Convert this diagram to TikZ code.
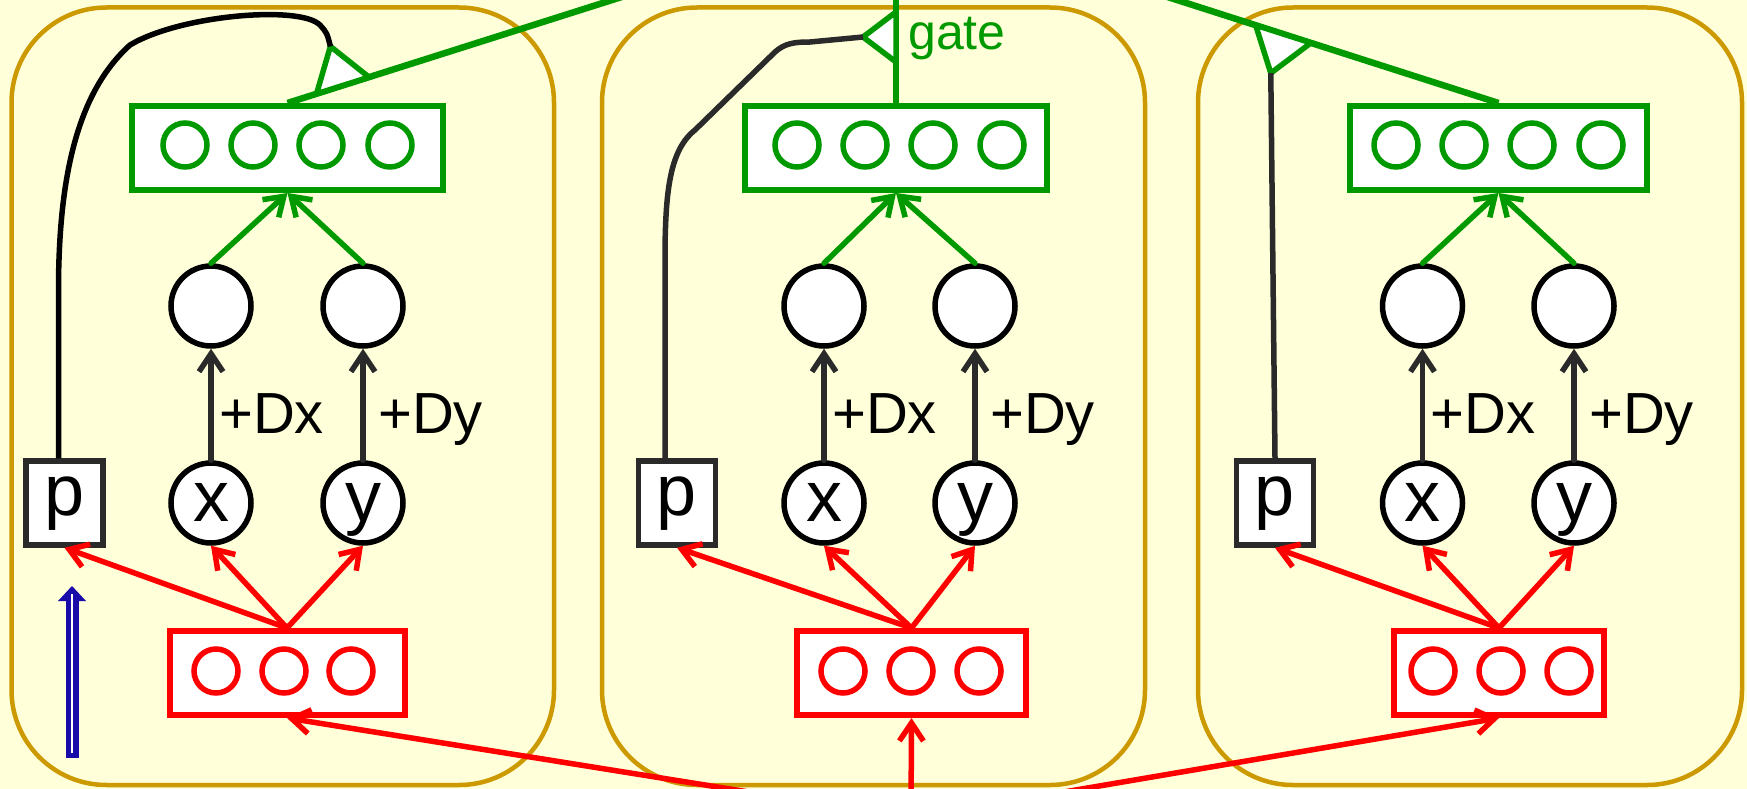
\documentclass[tikz,border=0pt]{standalone}
\usepackage{fontspec}
\setmainfont{Liberation Sans}
\usetikzlibrary{arrows.meta,calc}
\definecolor{bg}{HTML}{FFFFD9}
\definecolor{gold}{HTML}{CC9900}
\definecolor{grn}{HTML}{009900}
\definecolor{rd}{HTML}{FF0000}
\definecolor{blu}{RGB}{25,10,170}
\definecolor{dk}{HTML}{2A2A2A}
\begin{document}
\begin{tikzpicture}[x=1pt,y=-1pt,
  panel/.style={draw=gold, line width=4.5pt, rounded corners=95pt},
  gbox/.style={rectangle, draw=grn, fill=white, line width=6pt, minimum height=84pt, inner sep=0pt},
  rbox/.style={rectangle, draw=rd, fill=white, line width=6pt, minimum height=84pt, inner sep=0pt},
  gdot/.style={circle, draw=grn, line width=5.5pt, minimum size=44pt, inner sep=0pt},
  rdot/.style={circle, draw=rd, line width=5.5pt, minimum size=44pt, inner sep=0pt},
  unitc/.style={circle, draw=black, fill=white, line width=5.5pt, minimum size=80pt, inner sep=0pt,
    font=\fontsize{72}{72}\selectfont, text height=37pt, text depth=0pt},
  pbox/.style={rectangle, draw=dk, fill=white, line width=5.5pt, minimum width=77pt, minimum height=84pt,
    inner sep=0pt, font=\fontsize{72}{72}\selectfont, text height=37pt, text depth=12pt},
  lab/.style={font=\fontsize{58}{58}\selectfont, inner sep=0pt, anchor=base west},
  tip/.style={-{Straight Barb[length=18pt,width=24pt]}, line cap=round},
  rarrow/.style={tip, draw=rd, line width=5.5pt},
  garrow/.style={tip, draw=grn, line width=5.5pt},
  karrow/.style={tip, draw=dk, line width=5.5pt},
  gline/.style={draw=grn, line width=6.5pt},
  gate/.style={draw=grn, fill=white, line width=5.5pt, line join=miter},
  wire/.style={draw=black, line width=5.5pt},
]
\useasboundingbox (0,0) rectangle (1747,789);
\clip (0,0) rectangle (1747,789);
\fill[bg] (0,0) rectangle (1747,789);

% panels
\draw[panel] (11.5,7.5) rectangle (554,785);
\draw[panel] (602,7.5) rectangle (1145,785);
\draw[panel] (1198,7.5) rectangle (1742,785);

\coordinate (top) at (896,-90);
\coordinate (src) at (911,818);

% ---------- panel 1 ----------
\node[gbox, minimum width=311pt] (g1) at (287.5,148) {};
\foreach \i/\x in {a/185,b/253,c/321,d/390} \node[gdot] (g1\i) at (\x,145) {};
\node[unitc] (u1a) at (211,306) {};
\node[unitc] (u1b) at (363,306) {};
\node[unitc] (x1) at (211,503) {x};
\node[unitc] (y1) at (363,503) {y};
\node[pbox] (p1) at (64.5,503) {p};
\node[rbox, minimum width=235pt] (r1) at (287,673) {};
\foreach \i/\x in {a/216,b/284,c/351} \node[rdot] (r1\i) at (\x,671) {};

% ---------- panel 2 ----------
\node[gbox, minimum width=302pt] (g2) at (896,148) {};
\foreach \i/\x in {a/797,b/865,c/933,d/1002} \node[gdot] (g2\i) at (\x,145) {};
\node[unitc] (u2a) at (824,306) {};
\node[unitc] (u2b) at (975,306) {};
\node[unitc] (x2) at (824,503) {x};
\node[unitc] (y2) at (975,503) {y};
\node[pbox] (p2) at (677,503) {p};
\node[rbox, minimum width=229pt] (r2) at (911.5,673) {};
\foreach \i/\x in {a/843,b/911,c/979} \node[rdot] (r2\i) at (\x,671) {};

% ---------- panel 3 ----------
\node[gbox, minimum width=297pt] (g3) at (1498.5,148) {};
\foreach \i/\x in {a/1396,b/1464,c/1532,d/1601} \node[gdot] (g3\i) at (\x,145) {};
\node[unitc] (u3a) at (1422.5,306) {};
\node[unitc] (u3b) at (1574,306) {};
\node[unitc] (x3) at (1422.5,503) {x};
\node[unitc] (y3) at (1574,503) {y};
\node[pbox] (p3) at (1275,503) {p};
\node[rbox, minimum width=210pt] (r3) at (1499,673) {};
\foreach \i/\x in {a/1433,b/1501,c/1569} \node[rdot] (r3\i) at (\x,671) {};

% labels
\foreach \k in {1,2,3}{
  \node[lab] (dx\k) at ($(x\k)+(8,-70)$) {+Dx};
  \node[lab] (dy\k) at ($(y\k)+(15,-70)$) {+Dy};
}
\node[lab, text=grn, font=\fontsize{50}{50}\selectfont] (gatelab) at ($(g2.north)+(12,-53)$) {gate};

% connectors
\foreach \k in {1,2,3}{
  \draw[karrow] (x\k.north) -- (u\k a.south);
  \draw[karrow] (y\k.north) -- (u\k b.south);
  \draw[garrow] (u\k a.north) -- (g\k.south);
  \draw[garrow] (u\k b.north) -- (g\k.south);
  \draw[rarrow] (r\k.north) -- (p\k.south);
  \draw[rarrow] (r\k.north) -- (x\k.south);
  \draw[rarrow] (r\k.north) -- (y\k.south);
  \draw[rarrow] (src) -- (r\k.south);
  \draw[gline] (g\k.north) -- (top);
}

% gates
\coordinate (b1) at ($(g1.north)!58pt!(top)$);
\coordinate (a1) at ($(b1)!41pt!90:(top)$);
\draw[gate] ($(b1)!27.5pt!(top)$) -- (a1) -- ($(b1)!-27.5pt!(top)$) -- cycle;

\coordinate (b2) at ($(g2.north)!66pt!(top)$);
\coordinate (a2) at ($(b2)!33pt!90:(top)$);
\draw[gate] ($(b2)!25pt!(top)$) -- (a2) -- ($(b2)!-25pt!(top)$) -- cycle;

\coordinate (b3) at ($(g3.north)!226pt!(top)$);
\coordinate (a3) at ($(b3)!41pt!90:(top)$);
\draw[gate] ($(b3)!29pt!(top)$) -- (a3) -- ($(b3)!-29pt!(top)$) -- cycle;

% wires from p to gates
\draw[wire] ([xshift=-6pt]p1.north) -- (58.5,290) .. controls (58.5,170) and (80,90) .. (130,45)
  .. controls (180,15) and (300,5) .. (320,25) .. controls (327,33) .. (a1);
\draw[wire, draw=dk] ([xshift=-12pt]p2.north) -- (665,260) .. controls (665,190) and (670,150) .. (695,130)
  -- (775,52) .. controls (785,43) and (795,42) .. (810,42) -- (a2);
\draw[wire, draw=dk] (p3.north) -- (a3);

% blue double arrow
\coordinate (bl0) at (72,758);
\coordinate (bl1) at (72,600);
\fill[blu] ($(bl0)+(-6.5,0)$) rectangle ($(bl1)+(6.5,0)$);
\fill[blu] ($(bl1)+(-14,1)$) -- ($(bl1)+(0,-14)$) -- ($(bl1)+(14,1)$) -- cycle;
\draw[white, line width=2.5pt] ($(bl0)+(0,-5)$) -- ($(bl1)+(0,-6)$);
\end{tikzpicture}
\end{document}
